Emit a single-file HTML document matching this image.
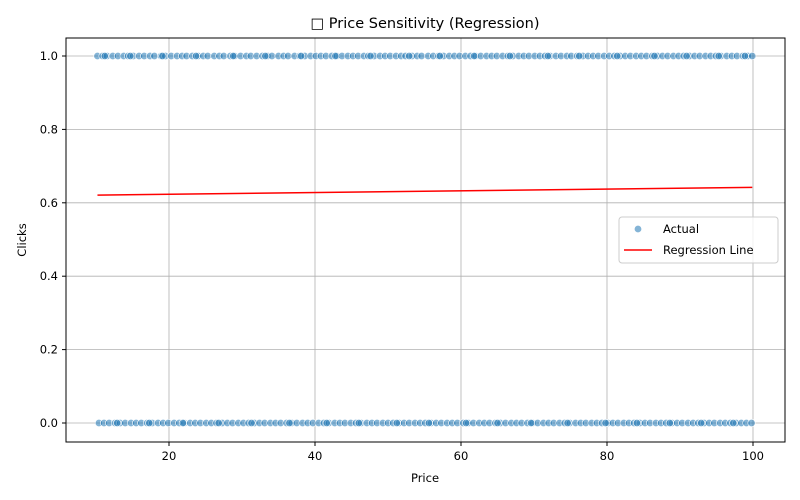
<!DOCTYPE html>
<html><head><meta charset="utf-8"><style>
html,body{margin:0;padding:0;background:#fff;}
svg{display:block;font-family:"DejaVu Sans","Liberation Sans",sans-serif;}
</style></head><body>
<svg id="chart" width="800" height="500" xmlns="http://www.w3.org/2000/svg">
<rect x="0" y="0" width="800" height="500" fill="#fff"/>
<text x="425" y="28" font-size="14.5" text-anchor="middle" fill="#000">□ Price Sensitivity (Regression)</text>
<g id="grid"></g>
<g id="pts"></g>
<g id="reg"></g>
<rect x="66" y="38" width="719" height="404" fill="none" stroke="#000" stroke-width="1"/>
<g id="ticks"></g>
<text x="425" y="482" font-size="11.5" text-anchor="middle">Price</text>
<text x="26" y="240" font-size="11.5" text-anchor="middle" transform="rotate(-90 26 240)">Clicks</text>
<g>
<rect x="619" y="217" width="159" height="46" rx="3" fill="#fff" fill-opacity="0.8" stroke="#ccc"/>
<g>
<circle cx="638" cy="229" r="3.7" fill="#1f77b4" fill-opacity="0.55" stroke="#fff" stroke-width="0.6"/>
<text x="663" y="233" font-size="11.5">Actual</text></g>
<g>
<line x1="624" y1="250" x2="652" y2="250" stroke="#ff0000" stroke-width="1.5"/>
<text x="663" y="254" font-size="11.5">Regression Line</text></g>
</g>
</svg>
<script>
const xTicks=[20,40,60,80,100];
const yTicks=[0,0.2,0.4,0.6,0.8,1.0];
const pricesClicked=[10.2,10.9,11.5,12.3,13.0,13.8,14.4,15.1,15.9,16.6,17.4,18.0,18.9,19.5,20.3,21.1,21.8,22.4,23.2,24.0,24.7,25.3,26.2,26.9,27.5,28.4,29.0,29.8,30.6,31.2,32.0,32.8,33.5,34.1,35.0,35.7,36.3,37.2,37.9,38.6,39.4,40.1,40.8,41.5,42.3,43.0,43.7,44.5,45.2,45.9,46.7,47.3,48.1,48.9,49.6,50.3,51.1,51.8,52.4,53.3,54.0,54.6,55.5,56.2,56.9,57.6,58.4,59.1,59.8,60.6,61.3,62.0,62.7,63.5,64.2,64.9,65.7,66.4,67.1,67.9,68.6,69.3,70.1,70.8,71.5,72.2,73.0,73.7,74.5,75.1,75.9,76.7,77.4,78.1,78.8,79.6,80.3,81.0,81.8,82.5,83.2,84.0,84.7,85.4,86.2,86.9,87.6,88.3,89.1,89.8,90.5,91.3,92.0,92.7,93.5,94.2,94.9,95.6,96.4,97.1,97.8,98.6,99.3,99.9,11.2,14.7,19.1,23.7,28.8,33.2,38.1,42.8,47.6,52.9,57.1,61.8,66.7,71.9,76.2,81.4,86.5,90.9,95.3,98.9];
const pricesNotClicked=[10.4,11.1,11.8,12.6,13.3,14.0,14.8,15.5,16.2,17.0,17.7,18.5,19.2,19.9,20.7,21.4,22.1,22.9,23.6,24.3,25.1,25.8,26.5,27.3,28.0,28.7,29.5,30.2,30.9,31.7,32.4,33.1,33.9,34.6,35.3,36.1,36.8,37.5,38.3,39.0,39.7,40.5,41.2,41.9,42.7,43.4,44.1,44.9,45.6,46.3,47.1,47.8,48.5,49.3,50.0,50.7,51.5,52.2,52.9,53.7,54.4,55.1,55.9,56.6,57.3,58.1,58.8,59.5,60.3,61.0,61.7,62.5,63.2,63.9,64.7,65.4,66.1,66.9,67.6,68.3,69.1,69.8,70.5,71.3,72.0,72.7,73.5,74.2,74.9,75.7,76.4,77.1,77.9,78.6,79.3,80.1,80.8,81.5,82.3,83.0,83.7,84.5,85.2,85.9,86.7,87.4,88.1,88.9,89.6,90.3,91.1,91.8,92.5,93.3,94.0,94.7,95.5,96.2,96.9,97.7,98.4,99.1,99.8,12.9,17.3,21.9,26.8,31.3,36.5,41.6,46.0,51.2,55.6,60.7,65.0,69.6,74.6,79.8,84.1,88.6,92.9,97.3];
const regX=[10.2,99.9];
const regY=[0.621,0.642];

const NS="http://www.w3.org/2000/svg";
const X0=66,X1=785,Y0=38,Y1=442;
function sx(v){return 96+(v-10)*7.3;}
function sy(v){return 423-v*367;}
function el(tag,attrs,parent){const e=document.createElementNS(NS,tag);for(const k in attrs)e.setAttribute(k,attrs[k]);parent.appendChild(e);return e;}
const grid=document.getElementById('grid'),ticks=document.getElementById('ticks');
xTicks.forEach(t=>{
  const l=el('line',{x1:sx(t),x2:sx(t),y1:Y0,y2:Y1,stroke:'#b0b0b0','stroke-width':0.8},grid);
  
  
  el('line',{x1:sx(t),x2:sx(t),y1:Y1,y2:Y1+4,stroke:'#000'},ticks);
  const tx=el('text',{x:sx(t),y:Y1+18,'font-size':11.5,'text-anchor':'middle'},ticks);
  tx.textContent=t;
  
  
});
yTicks.forEach(t=>{
  const l=el('line',{x1:X0,x2:X1,y1:sy(t),y2:sy(t),stroke:'#b0b0b0','stroke-width':0.8},grid);
  
  
  el('line',{x1:X0-4,x2:X0,y1:sy(t),y2:sy(t),stroke:'#000'},ticks);
  const tx=el('text',{x:X0-8,y:sy(t)+4,'font-size':11.5,'text-anchor':'end'},ticks);
  tx.textContent=t.toFixed(1);
  
  
});
const pts=document.getElementById('pts');
function drawPts(arr,yv){arr.forEach(p=>{
  const c=el('circle',{cx:sx(p),cy:sy(yv),r:3.7,fill:'#1f77b4','fill-opacity':0.55,stroke:'#fff','stroke-width':0.6},pts);
  
  
});}
drawPts(pricesClicked,1);
drawPts(pricesNotClicked,0);
const reg=document.getElementById('reg');
const rl=el('line',{x1:sx(regX[0]),y1:sy(regY[0]),x2:sx(regX[1]),y2:sy(regY[1]),stroke:'#ff0000','stroke-width':1.5},reg);


</script>
</body></html>
